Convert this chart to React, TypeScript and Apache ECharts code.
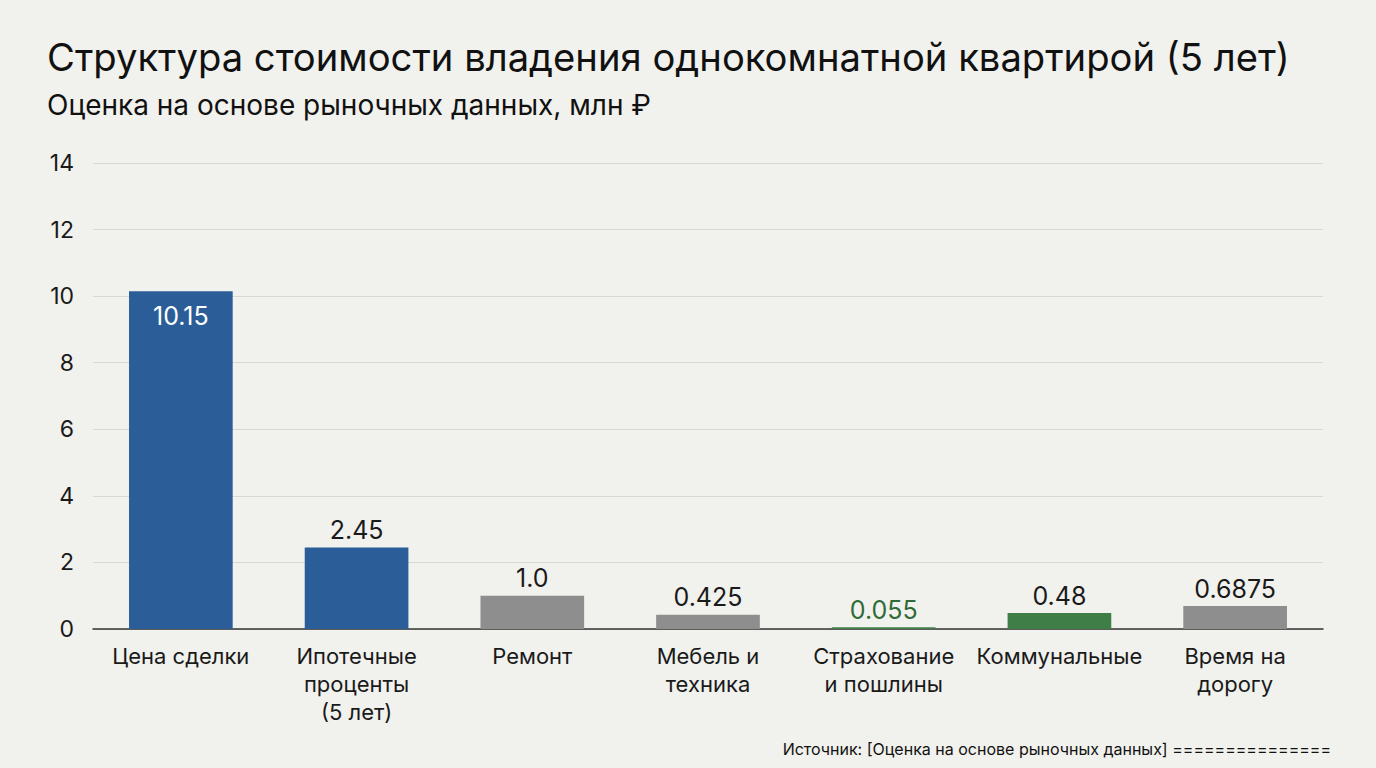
import { useEffect, useRef } from 'react';
import * as echarts from 'echarts';

const categories = [
  'Цена сделки',
  'Ипотечные\nпроценты\n(5 лет)',
  'Ремонт',
  'Мебель и\nтехника',
  'Страхование\nи пошлины',
  'Коммунальные',
  'Время на\nдорогу',
];
const values = [10.15, 2.45, 1.0, 0.425, 0.055, 0.48, 0.6875];
const valueLabels = ['10.15', '2.45', '1.0', '0.425', '0.055', '0.48', '0.6875'];
const groups = ['buy', 'buy', 'extra', 'extra', 'fee', 'fee', 'extra'];

const BLUE = '#2b5e99';
const GRAY = '#8e8e8e';
const GREEN = '#3f7f47';
const FONT = 'Inter, "Liberation Sans", sans-serif';

export default function App() {
  const chartRef = useRef<HTMLDivElement>(null);

  useEffect(() => {
    if (!chartRef.current) return;
    document.body.style.margin = '0';
    const chart = echarts.init(chartRef.current, undefined, { renderer: 'svg' });

    const colorOf = (g: string) => (g === 'buy' ? BLUE : g === 'fee' ? GREEN : GRAY);

    const seriesData = values.map((v, i) => ({
      value: v,
      itemStyle: { color: colorOf(groups[i]) },
      label:
        i === 0
          ? { position: 'insideTop', color: '#ffffff', distance: 12 }
          : { position: 'top', color: i === 4 ? '#2f6b37' : '#1a1a1a', distance: 5 },
    }));

    chart.setOption({
      animation: false,
      backgroundColor: '#f1f1ed',
      textStyle: { fontFamily: FONT },
      title: [
        {
          text: 'Структура стоимости владения однокомнатной квартирой (5 лет)',
          left: 42,
          top: 33,
          textStyle: { fontSize: 38.2, fontWeight: 'normal', color: '#111111', fontFamily: FONT },
        },
        {
          text: 'Оценка на основе рыночных данных, млн ₽',
          left: 42,
          top: 86,
          textStyle: { fontSize: 28, fontWeight: 'normal', color: '#111111', fontFamily: FONT },
        },
        {
          text: 'Источник: [Оценка на основе рыночных данных] ===============',
          right: 40,
          top: 736,
          textStyle: { fontSize: 16, fontWeight: 'normal', color: '#111111', fontFamily: FONT },
        },
      ],
      grid: { left: 93, right: 53, top: 163, bottom: 139 },
      xAxis: {
        type: 'category',
        data: categories,
        axisLine: { lineStyle: { color: '#333333', width: 1.5 } },
        axisTick: { show: false },
        axisLabel: {
          color: '#1a1a1a',
          fontSize: 22,
          lineHeight: 28,
          margin: 13,
          interval: 0,
          fontFamily: FONT,
        },
      },
      yAxis: {
        type: 'value',
        min: 0,
        max: 14,
        interval: 2,
        axisLine: { show: false },
        axisTick: { show: false },
        splitLine: { lineStyle: { color: '#d8d8d4', width: 1 } },
        axisLabel: { color: '#1a1a1a', fontSize: 23, margin: 19, fontFamily: FONT },
      },
      series: [
        {
          type: 'bar',
          data: seriesData,
          barWidth: '59%',
          label: {
            show: true,
            fontSize: 25,
            fontFamily: FONT,
            formatter: (p: any) => valueLabels[p.dataIndex],
          },
        },
      ],
    });

    return () => {
      chart.dispose();
    };
  }, []);

  return <div ref={chartRef} style={{ width: 1376, height: 768 }} />;
}
